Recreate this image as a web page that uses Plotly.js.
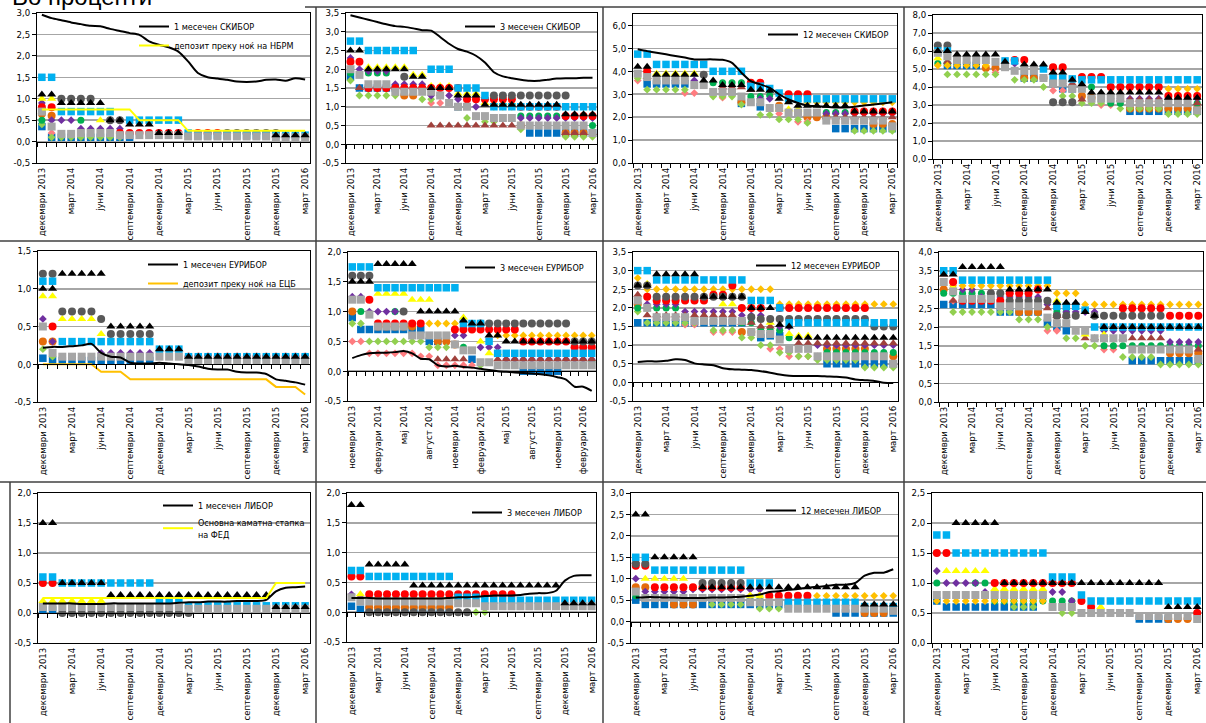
<!DOCTYPE html>
<html><head><meta charset="utf-8">
<script src="https://cdn.plot.ly/plotly-3.0.1.min.js"></script>
<style>html,body{margin:0;padding:0;background:#fff}#chart{width:1206px;height:723px}</style>
</head><body><div id="chart"></div>
<script>
const N = null;
// ---------- tick labels ----------
const labelsDec = ['декември 2013','март 2014','јуни 2014','септември 2014','декември 2014','март 2015','јуни 2015','септември 2015','декември 2015','март 2016'];
const labelsNov = ['ноември 2013','февруари 2014','мај 2014','август 2014','ноември 2014','февруари 2015','мај 2015','август 2015','ноември 2015','февруари 2016'];
const labelTicks = [0,3,6,9,12,15,18,21,24,27];

// ---------- panel 1 : 1 month SKIBOR ----------
const p1_line=[2.96,2.88,2.83,2.78,2.74, 2.70,2.69,2.63,2.58,2.53, 2.49,2.34,2.26,2.20,2.10, 1.87,1.60,1.50,1.47,1.44, 1.40,1.39,1.40,1.44,1.45, 1.42,1.48,1.45];
const p1_dep=[0.75,0.75,0.75,0.75,0.75, 0.75,0.75,0.75,0.75,0.75, 0.5,0.5,0.5,0.5,0.5, 0.25,0.25,0.25,0.25,0.25, 0.25,0.25,0.25,0.25,0.25, 0.25,0.25,0.25];
const p1_LB=[1.5,1.5,0.7,0.7,0.7, 0.7,0.7,0.7,N,0.5, 0.5,0.5,0.5,0.5,0.5, 0.2,0.15,0.15,0.15,0.15, 0.15,0.15,0.15,0.15,0.15, 0.15,0.15,0.15];
const p1_BT=[1.1,1.1,0.9,0.9,0.9, 0.9,0.9,0.5,0.5,0.4, 0.4,0.4,0.2,0.2,0.2, N,N,N,N,N, N,N,N,N,0.15, 0.15,0.15,0.15];
const p1_DG=[N,N,1.0,1.0,1.0, 1.0,N,0.5,0.5,N, N,N,N,N,N, N,N,N,N,0.2, 0.2,0.2,0.2,0.2,0.2, N,N,N];
const p1_RD=[0.8,0.8,N,N,N, N,N,N,0.2,0.2, 0.2,0.2,0.2,0.2,0.2, N,0.2,0.2,0.2,N, N,N,N,N,N, N,N,N];
const p1_YT=[1.0,1.0,N,N,N, N,0.5,N,N,N, N,N,N,N,N, N,N,N,N,N, N,N,N,N,N, N,N,N];
const p1_PU=[0.9,0.5,0.5,0.5,0.3, 0.3,0.3,0.3,0.3,N, N,N,N,N,N, N,N,N,N,N, N,N,N,N,N, N,N,N];
const p1_GN=[0.5,N,N,N,0.5, N,N,N,N,N, N,N,N,N,N, N,N,N,N,N, N,N,N,N,N, N,N,N];
const p1_OR=[0.65,0.6,N,N,N, N,N,N,N,N, N,N,N,N,N, N,N,N,N,N, N,N,N,N,N, N,N,N];
const p1_DB=[0.35,0.1,0.1,0.1,0.1, 0.1,0.1,0.1,0.1,0.1, N,N,N,N,N, N,N,N,N,N, N,N,N,N,N, N,N,N];
const p1_LG=[0.4,0.1,0.1,0.1,0.1, 0.1,0.1,0.1,0.1,N, N,N,N,N,N, N,N,N,N,N, N,N,N,N,N, N,N,N];
const p1_PK=[N,0.2,N,N,N, N,N,N,N,N, N,N,N,N,N, N,N,N,N,N, N,N,N,N,N, N,N,N];
const p1_GR=[0.7,0.35,0.18,0.18,0.2, 0.2,0.2,0.2,0.15,0.15, 0.15,0.15,0.15,0.15,0.15, 0.12,0.12,0.12,0.12,0.12, 0.12,0.12,0.12,0.12,0.1, 0.1,0.1,0.1];

// ---------- panel 2 : 3 month SKIBOR ----------
const p2_line=[3.44,3.38,3.32,3.26,3.20, 3.15,3.13,3.09,3.04,3.03, 2.86,2.68,2.54,2.47,2.36, 2.18,1.92,1.81,1.76,1.72, 1.69,1.69,1.72,1.75,1.76, 1.76,1.77,1.77];
const p2_LB=[2.75,2.75,2.5,2.5,2.5, 2.5,2.5,2.5,N,2.0, 2.0,2.0,1.5,1.5,1.5, 1.3,1.0,1.0,1.0,1.0, 1.0,1.0,1.0,1.0,1.0, 1.0,1.0,1.0];
const p2_BT=[2.5,2.5,2.0,2.0,2.0, 2.0,2.0,1.8,1.8,1.5, 1.5,1.5,1.3,1.3,1.3, 1.05,1.05,1.05,1.05,1.05, 1.05,1.05,1.05,1.05,0.8, 0.8,0.8,0.8];
const p2_DG=[N,N,N,N,N, N,1.8,N,N,N, N,N,N,N,N, N,1.3,1.3,1.3,1.3, 1.3,1.3,1.3,1.3,1.3, N,N,N];
const p2_RD=[2.2,2.2,1.5,1.5,1.5, 1.5,1.5,1.5,1.5,1.5, 1.5,1.5,1.5,1.2,1.2, 1.2,1.2,1.2,1.2,1.0, 1.0,1.0,1.0,1.0,0.75, 0.75,0.75,0.75];
const p2_YT=[N,N,2.05,2.05,2.05, 2.05,2.05,1.85,1.85,1.55, 1.55,1.55,1.35,1.35,1.35, 1.1,1.1,1.1,1.1,N, N,N,N,N,N, N,N,N];
const p2_PU=[2.3,2.0,1.95,1.95,1.95, 1.6,1.6,1.6,1.6,1.3, 1.3,1.3,1.2,1.2,1.0, N,N,N,N,0.7, 0.7,0.7,0.7,0.7,0.7, 0.7,0.7,0.7];
const p2_GN=[1.9,N,1.9,1.9,1.9, N,N,N,N,N, N,N,N,N,N, N,N,N,N,0.75, 0.75,0.75,0.75,0.75,N, N,N,0.5];
const p2_DB=[1.8,1.5,1.5,1.5,1.5, 1.5,N,N,N,N, N,N,1.0,N,N, N,N,N,N,N, 0.3,0.3,0.3,0.3,0.3, 0.3,0.3,0.3];
const p2_OR=[N,N,N,N,N, N,1.3,1.3,N,N, N,N,N,N,N, N,N,N,N,0.5, N,N,N,N,0.3, 0.3,0.3,N];
const p2_LG=[1.7,1.3,1.3,1.3,1.3, 1.3,N,N,1.2,1.2, N,N,1.0,0.7,N, 0.6,0.6,N,N,0.4, N,N,N,N,0.2, 0.2,0.2,0.2];
const p2_PK=[N,N,N,N,N, N,N,N,N,1.1, 1.1,N,N,N,N, N,N,N,N,N, N,N,N,N,N, N,N,N];
const p2_BR=[N,1.5,N,N,N, N,N,N,N,0.5, 0.5,0.5,0.5,0.5,0.5, 0.5,0.5,0.5,0.5,0.5, N,N,N,N,0.3, 0.3,0.3,0.3];
const p2_GR=[2.0,1.85,1.6,1.6,1.6, 1.4,1.4,1.4,1.4,1.4, 1.3,1.1,1.0,1.0,0.75, 0.75,0.7,0.7,0.7,0.5, 0.5,0.5,0.5,0.5,0.5, 0.5,0.5,0.3];
const p2_GD=[N,N,N,N,N, N,N,N,N,N, N,N,N,N,N, N,1.0,1.0,1.0,1.0, 1.0,1.0,1.0,1.0,N, N,N,N];

// ---------- panel 3 : 12 month SKIBOR ----------
const p3_line=[4.96,4.88,4.81,4.74,4.67, 4.60,4.52,4.52,4.52,4.50, 4.37,3.94,3.57,3.43,3.28, 3.00,2.77,2.62,2.51,2.48, 2.45,2.42,2.42,2.45,2.51, 2.55,2.60,2.65];
const p3_LB=[4.75,4.75,4.3,4.3,4.3, 4.3,4.3,4.3,4.0,4.0, 4.0,4.0,3.35,3.35,3.25, 3.05,2.8,2.8,2.8,2.8, 2.8,2.8,2.8,2.8,2.8, 2.8,2.8,2.8];
const p3_BT=[4.2,4.2,3.85,3.85,3.85, 3.85,3.85,3.6,3.6,3.4, 3.4,3.4,3.2,3.2,3.15, 2.8,2.65,2.5,2.5,2.5, 2.5,2.5,2.5,2.25,2.25, 2.25,2.25,2.25];
const p3_DG=[N,N,N,N,N, N,N,3.85,N,N, N,N,N,N,N, N,N,N,N,N, N,N,N,N,N, N,N,N];
const p3_RD=[N,4.0,N,N,N, N,N,N,N,N, N,N,3.5,3.5,N, N,3.0,3.0,3.0,N, N,N,N,2.25,2.25, 2.25,2.25,2.25];
const p3_YT=[N,N,3.9,3.9,3.9, 3.9,3.9,N,N,N, N,N,N,N,N, 2.35,2.35,2.35,N,N, N,N,N,N,N, N,N,N];
const p3_GD=[N,N,N,N,N, N,N,N,N,N, N,N,N,N,N, N,N,N,2.65,2.65, 2.65,2.65,2.65,2.65,2.65, 2.65,2.65,2.65];
const p3_PU=[N,N,N,3.6,3.6, 3.6,3.6,N,N,N, N,N,N,2.8,2.8, N,N,N,N,N, 2.15,2.15,2.15,2.15,2.15, 2.15,2.15,2.15];
const p3_GN=[N,N,N,N,N, N,N,N,3.5,3.5, 3.5,3.5,2.9,2.9,2.95, N,N,N,N,N, 2.2,2.2,2.2,2.2,N, N,N,N];
const p3_DB=[N,3.45,3.45,3.45,3.45, 3.45,N,N,N,N, N,2.6,N,2.45,N, N,N,N,N,N, N,1.5,1.5,1.5,1.5, 1.5,1.5,1.5];
const p3_OR=[N,N,N,N,N, N,N,N,N,N, N,2.65,N,N,N, 2.5,N,N,2.0,2.0, 2.0,N,N,N,N, 1.7,1.7,1.7];
const p3_LG=[3.7,3.2,3.2,3.2,3.2, 3.2,N,N,2.9,2.9, 2.9,2.55,N,2.1,2.1, 1.9,1.9,1.9,1.75,N, N,N,N,1.4,1.4, 1.4,1.4,1.4];
const p3_PK=[3.6,N,N,N,N, 3.05,3.05,N,N,2.85, N,N,N,N,N, 2.15,N,1.8,1.8,N, N,N,N,N,N, N,N,N];
const p3_BR=[N,3.75,N,N,N, N,N,N,N,3.3, 3.3,3.3,3.2,N,N, N,N,N,N,N, 2.0,2.0,2.0,2.0,2.0, 2.0,2.0,2.0];
const p3_GR=[3.9,3.75,3.6,3.6,3.6, 3.6,3.4,3.4,3.1,3.1, 3.1,2.9,2.65,2.65,2.4, 2.4,2.2,2.2,2.2,2.2, 1.85,1.85,1.85,1.85,1.85, 1.85,1.85,1.6];

// ---------- panel 4 ----------
const p4_DG=[6.3,6.3,N,N,N, N,N,N,N,N, N,N,3.15,3.15,3.15, N,N,N,N,N, N,N,N,N,N, N,N,N];
const p4_LB=[6.0,6.0,N,N,N, N,N,5.45,5.45,N, N,5.0,4.5,4.5,4.45, 4.4,4.4,4.4,4.4,4.4, 4.4,4.4,4.4,4.4,4.4, 4.4,4.4,4.4];
const p4_BT=[6.0,6.0,5.8,5.8,5.8, 5.8,5.8,5.4,N,5.25, 5.25,5.25,4.8,4.8,4.4, 4.15,3.7,3.7,3.7,3.7, 3.7,3.7,3.7,3.7,3.4, 3.4,3.4,3.4];
const p4_RD=[N,N,N,N,N, N,N,N,5.5,5.5, N,N,5.1,5.1,N, 4.55,4.55,4.55,4.0,4.0, 4.0,4.0,4.0,4.0,3.5, 3.5,3.5,3.5];
const p4_GD=[5.2,5.2,5.2,5.2,5.2, 5.2,N,N,N,N, N,N,N,N,N, N,N,N,N,N, N,N,N,N,3.9, 3.9,3.9,3.9];
const p4_YT=[5.6,N,N,N,N, N,N,N,N,N, N,N,N,N,N, N,N,N,N,N, N,N,N,N,N, N,N,N];
const p4_PU=[N,N,N,N,N, N,N,5.3,5.3,N, N,N,N,4.2,N, N,N,N,3.35,3.35, 3.35,3.35,3.35,3.35,3.35, 3.35,3.35,3.35];
const p4_GN=[5.3,5.3,N,N,N, N,N,N,N,N, N,N,N,N,N, N,4.0,N,3.1,3.1, 3.1,3.1,3.1,3.1,3.1, 3.1,3.1,3.1];
const p4_DB=[N,5.2,5.2,5.2,5.2, N,N,N,N,4.5, 4.5,N,4.2,3.9,3.9, N,N,N,N,N, 2.65,2.65,2.65,2.65,2.65, 2.65,2.65,2.65];
const p4_OR=[N,N,N,N,N, 5.05,5.05,N,N,4.5, 4.5,4.5,N,N,N, 3.5,3.4,N,N,N, 2.8,2.8,2.8,2.8,2.8, 2.8,2.8,2.8];
const p4_LG=[N,4.7,4.7,4.7,4.7, 4.7,4.7,N,4.4,4.4, 4.4,4.0,N,3.5,3.5, 3.1,3.1,3.1,N,2.8, 2.8,2.8,2.8,2.8,2.5, 2.5,2.5,2.5];
const p4_PK=[N,N,N,N,N, N,4.8,N,N,N, N,N,3.8,3.8,N, N,N,3.0,3.0,N, N,N,N,N,N, N,N,N];
const p4_BR=[N,5.4,N,N,N, N,N,N,N,N, N,N,4.8,N,4.2, 3.3,N,N,N,3.3, 3.3,3.3,3.3,3.3,N, N,N,3.1];
const p4_GR=[5.9,5.7,5.5,5.5,5.5, 5.5,5.4,5.1,4.9,4.9, 4.9,4.5,4.2,4.2,3.9, 3.9,3.35,3.35,3.35,3.35, 3.1,3.1,3.1,3.1,3.1, 3.1,3.1,2.7];

// ---------- panel 5 : 1 month EURIBOR ----------
const p5_line=[0.22,0.23,0.23,0.24,0.25, 0.27,0.15,0.10,0.09,0.02, 0.01,0.01,0.02,0.01,0.00, -0.01,-0.03,-0.06,-0.07,-0.07, -0.10,-0.11,-0.11,-0.13,-0.20, -0.22,-0.24,-0.27];
const p5_ecb=[0,0,0,0,0, 0,-0.1,-0.1,-0.1,-0.2, -0.2,-0.2,-0.2,-0.2,-0.2, -0.2,-0.2,-0.2,-0.2,-0.2, -0.2,-0.2,-0.2,-0.2,-0.3, -0.3,-0.3,-0.4];
const p5_DG=[1.2,1.2,0.7,0.7,0.7, 0.7,0.6,0.4,0.4,0.4, 0.4,0.4,N,N,N, N,N,N,N,N, N,N,N,N,N, N,N,N];
const p5_BT=[1.0,1.0,1.2,1.2,1.2, 1.2,1.2,0.5,0.5,0.5, 0.5,0.5,0.2,0.2,0.2, 0.1,0.1,0.1,0.1,0.1, 0.1,0.1,0.1,0.1,0.1, 0.1,0.1,0.1];
const p5_LB=[1.1,1.1,0.3,0.3,0.3, 0.3,0.3,0.3,0.3,0.3, 0.3,0.3,0.2,0.2,0.2, 0.1,0.1,0.1,0.1,0.1, 0.1,0.1,0.1,0.1,0.1, 0.1,0.1,0.1];
const p5_YT=[0.9,0.9,0.6,0.6,0.6, 0.6,0.4,N,N,N, N,N,N,N,N, N,N,N,N,N, N,N,N,N,N, N,N,N];
const p5_PU=[0.6,0.3,N,N,N, N,0.15,0.15,0.15,0.15, 0.15,0.15,N,N,N, 0.1,N,N,N,N, N,N,N,N,N, N,N,N];
const p5_RD=[N,0.5,N,N,N, N,N,N,N,N, N,N,N,N,N, 0.1,0.1,0.1,0.1,0.1, 0.1,0.1,0.1,0.1,0.1, 0.1,0.1,0.1];
const p5_GR=[0.5,0.15,0.1,0.1,0.1, 0.1,0.1,0.1,0.1,0.1, 0.1,0.1,0.1,0.1,0.1, 0.05,0.05,0.05,0.05,0.05, 0.05,0.05,0.05,0.05,0.05, 0.05,0.05,0.05];
const p5_OR=[0.3,0.3,N,N,N, N,N,N,N,N, N,N,N,N,N, N,N,N,N,N, N,N,N,N,N, N,N,N];
const p5_LG=[0.2,0.1,N,N,N, N,N,N,N,N, N,N,N,N,N, N,N,N,N,N, N,N,N,N,N, N,N,N];
const p5_DB=[0.08,0.05,0.05,0.05,0.05, 0.05,0.05,0.05,0.05,0.05, 0.05,0.05,N,N,N, N,N,N,N,N, N,N,N,N,N, N,N,N];

// ---------- panel 6 : 3 month EURIBOR (Nov 2013 - Mar 2016) ----------
const p6_line=[0.22,0.27,0.30,0.31,0.31, 0.32,0.34,0.30,0.21,0.20, 0.10,0.08,0.09,0.07,0.06, 0.04,0.02,0.00,-0.01,-0.02, -0.03,-0.04,-0.05,-0.07,-0.10, -0.14,-0.26,-0.26,-0.33];
const p6_LB=[1.75,1.75,1.75,1.4,1.4, 1.4,1.4,1.4,1.4,1.4, 1.4,1.4,1.4,0.8,0.8, 0.8,0.5,0.3,0.3,0.3, 0.3,0.3,0.3,0.3,0.3, 0.3,0.3,0.3,0.3];
const p6_BT=[1.5,1.5,1.5,1.8,1.8, 1.8,1.8,1.8,1.0,1.0, 1.0,1.0,1.0,0.85,0.8, 0.8,0.6,0.6,0.5,0.5, 0.5,0.5,0.5,0.5,0.5, 0.5,0.5,0.5,0.5];
const p6_DG=[1.6,1.6,1.6,N,N, N,1.0,N,N,N, N,N,N,N,N, 0.8,0.8,0.8,0.8,0.8, 0.8,0.8,0.8,0.8,0.8, 0.8,0.5,0.5,0.5];
const p6_RD=[N,N,1.2,0.8,0.8, 0.8,0.8,0.8,0.8,N, N,N,0.7,0.7,0.7, 0.7,0.7,0.7,0.7,0.7, 0.5,0.5,0.5,0.5,0.5, 0.5,0.4,0.4,0.4];
const p6_YT=[N,N,N,1.3,1.3, 1.3,1.3,1.2,1.2,1.2, N,N,N,0.9,N, 0.5,0.3,0.3,N,N, N,N,N,N,N, N,N,N,N];
const p6_GD=[N,N,N,N,N, N,N,N,N,0.8, 0.8,0.8,0.8,N,N, N,N,0.6,0.6,0.6, 0.6,0.6,0.6,0.6,0.6, 0.6,0.6,0.6,0.6];
const p6_PU=[1.25,1.25,1.0,1.0,1.0, 1.0,N,N,N,N, N,N,0.6,0.6,N, 0.4,0.4,0.4,0.2,0.2, 0.2,0.2,0.2,0.2,0.2, 0.2,0.2,0.2,0.2];
const p6_GN=[N,1.0,N,N,N, 1.0,N,N,N,N, N,N,N,0.4,N, N,N,N,N,N, N,N,N,N,N, N,N,N,0.15];
const p6_OR=[1.0,N,N,0.75,0.75, 0.75,0.75,0.75,N,N, 0.5,0.5,0.45,N,N, N,N,N,N,N, N,N,N,N,N, N,N,N,N];
const p6_DB=[0.9,0.7,0.7,0.7,0.7, 0.7,0.7,0.7,0.7,0.5, 0.5,N,N,N,0.2, N,N,N,N,N, 0.0,0.0,0.0,0.0,0.0, N,N,N,N];
const p6_LG=[0.8,0.8,0.5,0.5,0.5, 0.5,0.5,0.5,0.5,0.4, 0.4,0.4,N,0.4,N, 0.1,N,N,N,N, N,N,N,N,N, N,N,N,N];
const p6_PK=[0.5,0.5,0.3,0.3,0.3, 0.3,0.3,0.3,0.25,0.25, 0.1,0.1,0.1,0.1,0.1, N,N,N,N,N, N,N,N,N,N, N,N,N,N];
const p6_BR=[N,N,N,N,N, N,N,N,N,N, 0.2,0.2,0.2,0.2,N, N,N,0.2,0.2,0.2, 0.2,0.2,0.2,0.2,0.2, 0.2,0.2,0.2,0.2];
const p6_GR=[1.2,1.2,0.95,0.75,0.75, 0.75,0.75,0.6,0.6,0.6, 0.6,0.6,0.45,0.35,0.35, 0.15,0.15,0.1,0.1,0.1, 0.1,0.1,0.1,0.1,0.1, 0.1,0.1,0.1,0.1];

// ---------- panel 7 : 12 month EURIBOR ----------
const p7_line=[0.55,0.57,0.56,0.58,0.62, 0.60,0.51,0.48,0.46,0.38, 0.35,0.34,0.33,0.30,0.26, 0.21,0.18,0.17,0.17,0.17, 0.16,0.15,0.13,0.08,0.06, 0.04,-0.01,-0.02];
const p7_LB=[3.0,3.0,2.75,2.75,2.75, 2.75,2.75,2.75,2.75,2.75, 2.75,2.75,2.2,2.2,2.2, 2.0,1.6,1.6,1.6,1.6, 1.6,1.6,1.6,1.6,1.6, 1.6,1.6,1.6];
const p7_BT=[2.6,2.6,2.9,2.9,2.9, 2.9,2.9,2.3,2.3,2.3, 2.3,2.3,2.0,2.0,2.0, 1.55,1.5,1.2,1.2,1.2, 1.2,1.2,1.2,1.2,1.2, 1.2,1.2,1.2];
const p7_DG=[2.6,2.6,2.3,2.3,2.3, 2.3,2.3,2.3,2.3,2.3, 2.3,2.3,1.75,1.7,1.7, 1.7,1.7,1.7,1.7,1.7, 1.7,1.7,1.7,1.7,1.7, 1.5,1.5,1.5];
const p7_RD=[N,2.3,2.2,2.2,2.2, 2.2,2.2,2.2,2.35,2.35, 2.6,2.0,2.0,2.0,N, 2.0,2.0,2.0,2.0,2.0, 2.0,2.0,2.0,2.0,2.0, N,N,N];
const p7_GD=[2.8,2.5,2.5,2.5,2.5, 2.5,2.5,2.5,2.5,2.5, 2.5,2.5,2.5,2.5,2.5, 2.1,2.1,2.1,2.1,2.1, 2.1,2.1,2.1,2.1,2.1, 2.1,2.1,2.1];
const p7_YT=[N,2.65,N,N,N, N,N,N,N,2.1, 2.1,N,2.15,N,1.6, N,1.3,1.25,1.25,N, N,N,N,N,N, N,N,N];
const p7_PU=[N,2.1,2.1,2.1,2.1, 1.9,1.9,1.9,1.9,1.9, 1.9,1.8,1.8,1.8,N, 1.5,1.5,1.0,1.0,1.0, 1.0,1.0,1.0,1.0,1.0, 1.0,1.0,1.0];
const p7_GN=[2.0,2.0,2.0,2.0,2.0, N,N,N,N,N, N,1.6,1.6,1.4,1.4, 1.4,1.2,N,N,N, 0.8,0.8,0.8,0.8,0.8, 0.8,0.8,0.8];
const p7_DB=[1.6,1.6,1.6,1.6,1.6, 1.6,1.6,1.6,1.6,1.6, 1.6,1.6,N,1.2,1.25, 1.25,N,N,N,N, 0.5,0.5,0.5,0.5,0.5, 0.5,0.5,0.5];
const p7_OR=[2.1,N,N,N,N, N,N,N,N,N, N,1.35,1.35,N,N, N,N,N,N,N, 0.9,0.9,0.9,0.9,0.9, N,N,0.7];
const p7_LG=[1.9,1.6,1.6,1.6,1.6, 1.6,1.6,N,1.4,1.4, 1.4,1.2,1.2,1.0,1.0, 0.8,0.8,0.7,0.7,0.6, 0.6,0.6,0.6,0.6,0.4, 0.4,0.4,0.4];
const p7_PK=[N,N,N,N,N, 1.55,1.55,N,1.35,1.35, 1.35,N,N,N,0.9, 0.9,0.7,0.7,0.7,0.7, N,N,N,N,N, N,N,N];
const p7_BR=[2.35,1.8,1.8,1.8,1.8, 1.8,1.8,1.8,1.8,1.8, 1.8,1.6,1.6,1.5,1.5, N,N,1.05,1.05,1.05, 1.05,1.05,1.05,1.05,1.05, 1.05,1.05,1.05];
const p7_GR=[2.2,2.0,1.75,1.75,1.75, 1.75,1.65,1.65,1.65,1.65, 1.65,1.65,1.35,1.3,1.3, 1.15,0.9,0.9,0.9,0.7, 0.7,0.7,0.7,0.7,0.7, 0.7,0.7,0.5];

// ---------- panel 8 ----------
const p8_LB=[3.5,3.5,3.25,3.25,3.25, 3.25,3.25,3.25,3.25,3.25, 3.25,3.25,2.55,2.55,2.55, 2.45,2.0,2.0,2.0,2.0, 2.0,2.0,2.0,2.0,2.0, 2.0,2.0,2.0];
const p8_BT=[3.4,3.4,3.6,3.6,3.6, 3.6,3.6,3.0,3.0,3.0, 3.0,3.0,2.65,2.65,2.65, 2.4,2.3,2.0,2.0,2.0, 2.0,2.0,2.0,2.0,2.0, 2.0,2.0,2.0];
const p8_DG=[N,N,N,N,N, 2.9,2.9,2.7,2.7,2.7, 2.7,2.7,2.3,2.3,2.3, N,2.3,2.3,2.3,2.3, 2.3,2.3,2.3,2.3,N, N,N,N];
const p8_RD=[N,3.2,2.7,2.7,2.7, 2.7,2.7,2.9,2.9,2.9, 3.0,N,N,N,N, N,N,N,N,2.5, 2.5,2.5,2.5,2.5,2.3, 2.3,2.3,2.3];
const p8_GD=[N,3.1,3.1,3.1,3.1, 3.1,3.1,3.1,3.1,3.1, 3.1,3.1,2.9,2.9,2.9, 2.6,2.6,2.6,2.6,2.6, 2.6,2.6,2.6,2.6,2.6, 2.6,2.6,2.6];
const p8_YT=[N,3.05,N,N,N, N,N,N,N,N, N,N,2.7,N,N, 1.8,N,1.8,N,N, N,N,N,N,N, N,N,N];
const p8_PU=[N,N,3.0,3.0,2.8, 2.8,2.8,2.8,2.8,2.8, 2.8,2.6,2.3,2.4,2.4, 2.4,2.4,1.9,1.9,1.9, 1.9,1.9,1.9,1.9,1.6, 1.6,1.6,1.6];
const p8_GN=[2.9,2.9,2.9,2.9,2.9, N,N,N,N,N, N,N,2.4,2.4,N, N,N,1.5,1.5,1.5, 1.5,1.5,1.5,1.5,1.5, 1.5,1.5,1.5];
const p8_DB=[2.6,2.6,2.6,2.6,2.6, 2.6,2.4,2.4,2.4,2.4, 2.4,2.1,2.0,1.9,N, N,N,N,N,N, 1.1,1.1,1.1,1.1,1.1, 1.1,1.1,1.1];
const p8_OR=[3.0,N,N,N,N, N,N,N,2.4,2.4, 2.4,N,2.3,N,N, N,N,N,N,N, N,N,N,N,1.3, 1.3,1.3,1.3];
const p8_LG=[N,2.4,2.4,2.4,2.4, 2.4,2.4,2.4,2.2,2.2, 2.2,2.0,N,1.7,1.7, 1.5,1.5,1.5,1.5,1.2, 1.2,1.2,1.2,1.0,1.0, 1.0,1.0,1.0];
const p8_PK=[N,2.7,N,N,N, N,N,N,N,N, N,1.9,1.9,N,N, N,N,1.4,1.4,N, N,N,N,N,N, N,N,N];
const p8_BR=[3.4,2.7,N,N,N, N,N,N,N,N, N,2.5,2.3,2.3,N, 1.7,1.7,N,N,1.7, 1.7,1.7,1.7,1.7,N, N,N,1.4];
const p8_GR=[3.2,2.95,2.75,2.75,2.75, 2.75,2.55,2.55,2.55,2.55, 2.55,2.25,2.1,2.1,1.9, 1.9,1.7,1.7,1.7,1.7, 1.4,1.4,1.4,1.4,1.4, 1.4,1.4,1.15];

// ---------- panel 9 : 1 month LIBOR ----------
const p9_line=[0.16,0.16,0.16,0.16,0.15, 0.15,0.15,0.16,0.16,0.16, 0.16,0.16,0.16,0.16,0.17, 0.18,0.18,0.19,0.19,0.19, 0.20,0.20,0.20,0.22,0.36, 0.42,0.43,0.44];
const p9_fed=[0.25,0.25,0.25,0.25,0.25, 0.25,0.25,0.25,0.25,0.25, 0.25,0.25,0.25,0.25,0.25, 0.25,0.25,0.25,0.25,0.25, 0.25,0.25,0.25,0.25,0.5, 0.5,0.5,0.5];
const p9_BT=[1.5,1.5,0.5,0.5,0.5, 0.5,0.5,0.3,0.3,0.3, 0.3,0.3,0.3,0.3,0.3, 0.3,0.3,0.3,0.3,0.3, 0.3,0.3,0.3,0.3,0.1, 0.1,0.1,0.1];
const p9_LB=[0.6,0.6,0.5,0.5,0.5, 0.5,0.5,0.5,0.5,0.5, 0.5,0.5,0.2,0.2,0.2, 0.12,0.12,0.12,0.12,0.12, 0.12,0.12,0.12,0.12,0.12, 0.12,0.12,0.12];
const p9_RD=[0.5,0.5,N,N,N, N,N,N,N,N, N,N,N,N,N, N,N,N,N,N, N,N,N,N,N, N,N,N];
const p9_YT=[0.2,0.2,0.2,0.2,0.2, 0.2,0.2,N,N,N, N,N,N,N,N, N,N,N,N,N, N,N,N,N,N, N,N,N];
const p9_PU=[0.15,0.15,N,N,N, N,N,N,N,N, N,N,0.15,0.15,N, N,N,N,N,N, N,N,N,N,N, N,N,N];
const p9_GR=[0.1,0.1,0.1,0.1,0.1, 0.1,0.1,0.1,0.1,0.1, 0.1,0.1,0.1,0.1,0.1, 0.07,0.07,0.07,0.07,0.07, 0.07,0.07,0.07,0.07,0.07, 0.07,0.07,0.07];
const p9_DG=[N,N,0,0,0, 0,0,0,0,0, 0,0,0,0,0, 0,N,N,N,N, N,N,N,N,N, N,N,N];
const p9_LG=[N,N,N,N,N, N,N,N,0,0, 0,N,N,N,N, N,N,N,N,N, N,N,N,N,N, N,N,N];
const p9_DB=[0.05,0.05,N,N,N, N,N,N,N,N, N,N,N,N,N, N,N,N,N,N, N,N,N,N,N, N,N,N];

// ---------- panel 10 : 3 month LIBOR ----------
const p10_line=[0.24,0.24,0.24,0.23,0.23, 0.23,0.23,0.23,0.23,0.23, 0.23,0.24,0.25,0.25,0.26, 0.27,0.28,0.28,0.28,0.29, 0.31,0.32,0.32,0.36,0.53, 0.61,0.62,0.62];
const p10_BT=[1.8,1.8,0.8,0.8,0.8, 0.8,0.8,0.45,0.45,0.45, 0.45,0.45,0.45,0.45,0.45, 0.45,0.45,0.45,0.45,0.45, 0.45,0.45,0.45,0.45,0.15, 0.15,0.15,0.15];
const p10_LB=[0.7,0.7,0.6,0.6,0.6, 0.6,0.6,0.6,0.6,0.6, 0.6,0.6,0.25,0.25,0.25, 0.2,0.2,0.2,0.2,0.2, 0.2,0.2,0.2,0.2,0.2, 0.2,0.2,0.2];
const p10_RD=[0.6,0.6,0.3,0.3,0.3, 0.3,0.3,0.3,0.3,0.3, 0.3,0.3,0.3,0.3,0.3, 0.3,0.3,0.3,0.3,N, N,N,N,N,N, N,N,N];
const p10_YT=[N,0.3,0.25,0.25,0.25, 0.25,0.25,0.25,0.25,0.25, 0.25,0.25,N,N,N, N,N,N,N,N, N,N,N,N,N, N,N,N];
const p10_PU=[0.3,0.25,0.25,0.25,0.25, N,N,N,N,N, N,N,N,N,N, N,N,N,N,N, N,N,N,N,N, N,N,N];
const p10_DB=[0.1,0.05,0.05,0.05,0.05, 0.05,0.05,0.05,0.05,0.05, 0.05,0.05,N,N,N, N,N,N,N,N, N,N,N,N,N, N,N,N];
const p10_GR=[0.25,0.18,0.18,0.18,0.18, 0.18,0.18,0.18,0.18,0.18, 0.18,0.18,0.15,0.15,0.15, 0.1,0.1,0.1,0.1,0.1, 0.1,0.1,0.1,0.1,0.1, 0.1,0.1,0.1];
const p10_DG=[N,N,0,0,0, 0,0,0,0,0, 0,0,0,0,N, N,N,N,N,N, N,N,N,N,N, N,N,N];
const p10_LG=[N,N,N,N,N, N,N,N,N,N, N,N,N,0,0, 0,N,N,N,N, N,N,N,N,N, N,N,N];
const p10_OR=[N,N,0.08,0.08,0.08, 0.08,0.08,0.08,0.08,0.08, 0.08,0.08,N,N,N, N,N,N,N,N, N,N,N,N,N, N,N,N];

// ---------- panel 11 : 12 month LIBOR ----------
const p11_line=[0.56,0.57,0.57,0.56,0.56, 0.55,0.55,0.55,0.56,0.56, 0.57,0.58,0.60,0.63,0.69, 0.71,0.74,0.76,0.79,0.81, 0.83,0.86,0.86,0.90,1.07, 1.14,1.14,1.22];
const p11_BT=[2.5,2.5,1.5,1.5,1.5, 1.5,1.5,0.8,0.8,0.8, 0.8,0.8,0.8,0.8,0.8, 0.8,0.8,0.8,0.8,0.8, 0.8,0.8,0.8,0.8,0.4, 0.4,0.4,0.4];
const p11_LB=[1.5,1.5,1.2,1.2,1.2, 1.2,1.2,1.2,1.2,1.2, 1.2,1.2,0.9,0.9,0.9, 0.45,0.45,0.45,0.45,0.45, 0.45,0.45,0.45,0.45,0.35, 0.35,0.35,0.35];
const p11_RD=[1.3,1.3,0.8,0.8,0.8, 0.8,0.8,0.8,0.8,0.8, 0.8,0.8,N,N,0.6, 0.6,0.6,0.6,0.6,N, N,N,N,N,N, N,N,N];
const p11_DG=[1.35,1.35,N,N,N, N,N,0.9,0.9,0.9, 0.9,0.9,N,N,N, N,N,N,N,N, N,N,N,N,N, N,N,N];
const p11_YT=[N,1.0,1.0,1.0,1.0, 1.0,N,N,N,N, N,N,0.6,0.6,0.6, N,N,N,N,N, N,N,N,N,N, N,N,N];
const p11_GD=[N,N,N,N,N, N,N,N,N,N, N,N,0.6,0.6,0.6, 0.6,0.6,0.6,0.6,0.6, 0.6,0.6,0.6,0.6,0.6, 0.6,0.6,0.6];
const p11_PU=[1.0,0.7,0.7,0.7,0.7, 0.7,0.75,0.75,0.75,0.75, 0.75,0.75,0.75,0.75,N, N,N,N,N,N, N,N,N,N,N, N,N,N];
const p11_OR=[0.8,0.8,N,N,0.4, 0.4,0.4,N,N,N, N,N,N,N,N, N,N,N,N,N, N,N,N,N,0.2, 0.2,0.2,N];
const p11_GN=[0.6,N,N,N,N, N,N,N,N,N, N,N,0.5,0.5,N, N,N,N,N,N, N,N,N,N,N, N,N,0.3];
const p11_DB=[0.5,0.4,0.4,0.4,0.4, 0.4,0.4,0.4,0.4,0.4, 0.4,0.4,0.4,0.4,0.4, 0.4,0.4,N,N,N, N,0.2,0.2,0.2,0.2, 0.2,0.2,0.2];
const p11_LG=[N,N,N,N,N, N,N,N,0.4,0.4, 0.4,0.4,N,0.3,0.3, 0.3,N,N,N,N, N,N,N,N,N, N,N,N];
const p11_GR=[0.7,0.55,0.55,0.55,0.55, 0.55,0.55,0.55,0.55,0.55, 0.55,0.55,0.45,0.45,0.45, 0.45,0.3,0.3,0.3,0.3, 0.3,0.3,0.3,0.3,0.3, 0.3,0.3,0.25];
const p11_BR=[1.4,N,N,N,N, N,N,N,N,N, N,N,N,N,N, N,N,N,N,N, N,N,N,N,N, N,N,N];

// ---------- panel 12 ----------
const p12_BT=[N,N,2.0,2.0,2.0, 2.0,2.0,1.0,1.0,1.0, 1.0,1.0,1.0,1.0,1.0, 1.0,1.0,1.0,1.0,1.0, 1.0,1.0,1.0,1.0,0.6, 0.6,0.6,0.6];
const p12_LB=[1.8,1.8,1.5,1.5,1.5, 1.5,1.5,1.5,1.5,1.5, 1.5,1.5,1.1,1.1,1.1, 0.8,0.7,0.7,0.7,0.7, 0.7,0.7,0.7,0.7,0.7, 0.7,0.7,0.7];
const p12_RD=[1.5,1.5,N,N,N, N,1.0,1.0,1.0,1.0, 1.0,1.0,1.0,1.0,1.0, 0.7,0.6,N,N,N, N,N,N,N,N, N,N,0.5];
const p12_PU=[1.2,1.0,1.0,1.0,1.0, 0.85,0.85,0.85,0.85,0.85, 0.85,0.85,0.85,0.85,0.7, 0.7,N,N,N,N, N,N,N,N,N, N,N,N];
const p12_YT=[N,1.2,1.2,1.2,1.2, 1.2,0.9,0.9,0.9,0.9, 0.9,0.9,N,N,N, N,N,0.6,N,N, N,N,N,N,N, N,N,N];
const p12_GN=[1.0,N,N,N,1.0, 1.0,0.7,0.7,0.7,0.7, 0.7,0.7,0.7,0.7,0.7, N,N,N,N,N, N,N,N,N,N, N,N,0.5];
const p12_GD=[0.7,0.7,0.7,0.7,0.7, 0.7,0.7,0.7,0.7,0.7, 0.7,0.7,N,N,N, N,N,N,N,N, N,N,N,N,N, N,N,N];
const p12_DB=[0.7,0.6,0.6,0.6,0.6, 0.6,0.6,0.6,0.6,0.6, 0.6,N,N,N,N, N,N,N,N,N, N,0.4,0.4,0.4,0.4, N,N,N];
const p12_GR=[0.8,0.8,0.8,0.8,0.8, 0.8,0.8,0.8,0.8,0.8, 0.8,0.8,0.6,0.6,0.6, 0.5,0.5,0.5,0.5,0.5, 0.5,0.45,0.45,0.45,0.45, 0.45,0.45,0.4];
const p12_LG=[N,N,N,N,N, N,N,N,0.6,0.6, 0.6,N,N,0.5,0.5, 0.5,N,N,N,N, N,N,N,N,N, N,N,N];
const p12_OR=[N,N,N,N,N, N,N,N,N,N, N,N,N,N,N, N,N,N,N,N, N,N,N,N,0.4, 0.4,0.4,N];

// ---------- styling (not data) ----------
const W = 1206, H = 723;
const FONT = '"Liberation Sans Narrow","DejaVu Sans Condensed","Liberation Sans",Arial,sans-serif';
const STY = {
  DB:{symbol:'square',color:'#0070C0',size:7.5},
  OR:{symbol:'circle',color:'#E46C0A',size:8},
  PK:{symbol:'diamond',color:'#FF7C80',size:6},
  LG:{symbol:'diamond',color:'#92D050',size:6},
  GN:{symbol:'circle',color:'#00B050',size:7},
  PU:{symbol:'diamond',color:'#7030A0',size:6},
  BR:{symbol:'triangle-up',color:'#A0413C',size:8},
  GD:{symbol:'diamond',color:'#FFC000',size:6},
  YT:{symbol:'triangle-up',color:'#FFFF00',size:8},
  RD:{symbol:'circle',color:'#FF0000',size:8},
  DG:{symbol:'circle',color:'#595959',size:8},
  LB:{symbol:'square',color:'#00B0F0',size:7.5},
  GR:{symbol:'square',color:'#A6A6A6',size:8},
  BT:{symbol:'triangle-up',color:'#000000',size:8}
};
const ORDER = ['DB','OR','PK','LG','GN','PU','BR','GD','YT','RD','DG','LB','GR','BT'];

const panels = [
 {px:[37,310],py:[13,163],yr:[-0.5,3.0],dt:0.5,n:28,lab:labelsDec,leg:{id:'legend',tx:174,ty:24},
  mk:{DB:p1_DB,OR:p1_OR,PK:p1_PK,LG:p1_LG,GN:p1_GN,PU:p1_PU,YT:p1_YT,RD:p1_RD,DG:p1_DG,LB:p1_LB,GR:p1_GR,BT:p1_BT},
  ln:[{y:p1_line,name:'1 месечен СКИБОР',c:'#000000',s:'spline'},{y:p1_dep,name:'депозит преку ноќ на НБРМ',c:'#FFFF00',s:'linear'}]},
 {px:[346,597],py:[13,163],yr:[-0.5,3.5],dt:0.5,n:28,lab:labelsDec,leg:{id:'legend2',tx:500,ty:24},
  mk:{DB:p2_DB,OR:p2_OR,PK:p2_PK,LG:p2_LG,GN:p2_GN,PU:p2_PU,BR:p2_BR,GD:p2_GD,YT:p2_YT,RD:p2_RD,DG:p2_DG,LB:p2_LB,GR:p2_GR,BT:p2_BT},
  ln:[{y:p2_line,name:'3 месечен СКИБОР',c:'#000000',s:'spline'}]},
 {px:[633,897],py:[14,163],yr:[0,6.5],dt:1,n:28,lab:labelsDec,leg:{id:'legend3',tx:803,ty:32},
  mk:{DB:p3_DB,OR:p3_OR,PK:p3_PK,LG:p3_LG,GN:p3_GN,PU:p3_PU,BR:p3_BR,GD:p3_GD,YT:p3_YT,RD:p3_RD,DG:p3_DG,LB:p3_LB,GR:p3_GR,BT:p3_BT},
  ln:[{y:p3_line,name:'12 месечен СКИБОР',c:'#000000',s:'spline'}]},
 {px:[933,1202],py:[15,159],yr:[0,8],dt:1,n:28,lab:labelsDec,leg:null,
  mk:{DB:p4_DB,OR:p4_OR,PK:p4_PK,LG:p4_LG,GN:p4_GN,PU:p4_PU,BR:p4_BR,GD:p4_GD,YT:p4_YT,RD:p4_RD,DG:p4_DG,LB:p4_LB,GR:p4_GR,BT:p4_BT},
  ln:[]},
 {px:[38,310],py:[251,402],yr:[-0.5,1.5],dt:0.5,n:28,lab:labelsDec,leg:{id:'legend4',tx:183,ty:262},
  mk:{DB:p5_DB,OR:p5_OR,LG:p5_LG,PU:p5_PU,YT:p5_YT,RD:p5_RD,DG:p5_DG,LB:p5_LB,GR:p5_GR,BT:p5_BT},
  ln:[{y:p5_line,name:'1 месечен ЕУРИБОР',c:'#000000',s:'spline'},{y:p5_ecb,name:'депозит преку ноќ на ЕЦБ',c:'#FFC000',s:'linear'}]},
 {px:[348,596],py:[252,401],yr:[-0.5,2.0],dt:0.5,n:29,lab:labelsNov,leg:{id:'legend5',tx:500,ty:265},
  mk:{DB:p6_DB,OR:p6_OR,PK:p6_PK,LG:p6_LG,GN:p6_GN,PU:p6_PU,BR:p6_BR,GD:p6_GD,YT:p6_YT,RD:p6_RD,DG:p6_DG,LB:p6_LB,GR:p6_GR,BT:p6_BT},
  ln:[{y:p6_line,name:'3 месечен ЕУРИБОР',c:'#000000',s:'spline'}]},
 {px:[633,898],py:[252,401],yr:[-0.5,3.5],dt:0.5,n:28,lab:labelsDec,leg:{id:'legend6',tx:791,ty:263},
  mk:{DB:p7_DB,OR:p7_OR,PK:p7_PK,LG:p7_LG,GN:p7_GN,PU:p7_PU,BR:p7_BR,GD:p7_GD,YT:p7_YT,RD:p7_RD,DG:p7_DG,LB:p7_LB,GR:p7_GR,BT:p7_BT},
  ln:[{y:p7_line,name:'12 месечен ЕУРИБОР',c:'#000000',s:'spline'}]},
 {px:[939,1203],py:[252,402],yr:[0,4.0],dt:0.5,n:28,lab:labelsDec,leg:null,
  mk:{DB:p8_DB,OR:p8_OR,PK:p8_PK,LG:p8_LG,GN:p8_GN,PU:p8_PU,BR:p8_BR,GD:p8_GD,YT:p8_YT,RD:p8_RD,DG:p8_DG,LB:p8_LB,GR:p8_GR,BT:p8_BT},
  ln:[]},
 {px:[38,310],py:[493,643],yr:[-0.5,2.0],dt:0.5,n:28,lab:labelsDec,leg:{id:'legend7',tx:198,ty:503},
  mk:{DB:p9_DB,LG:p9_LG,PU:p9_PU,YT:p9_YT,RD:p9_RD,DG:p9_DG,LB:p9_LB,GR:p9_GR,BT:p9_BT},
  ln:[{y:p9_line,name:'1 месечен ЛИБОР',c:'#000000',s:'spline'},{y:p9_fed,name:'Основна каматна стапка<br>на ФЕД',c:'#FFFF00',s:'linear'}]},
 {px:[347,596],py:[493,642],yr:[-0.5,2.0],dt:0.5,n:28,lab:labelsDec,leg:{id:'legend8',tx:507,ty:510},
  mk:{DB:p10_DB,OR:p10_OR,LG:p10_LG,PU:p10_PU,YT:p10_YT,RD:p10_RD,DG:p10_DG,LB:p10_LB,GR:p10_GR,BT:p10_BT},
  ln:[{y:p10_line,name:'3 месечен ЛИБОР',c:'#000000',s:'spline'}]},
 {px:[631,898],py:[493,643],yr:[-0.5,3.0],dt:0.5,n:28,lab:labelsDec,leg:{id:'legend9',tx:801,ty:508},
  mk:{DB:p11_DB,OR:p11_OR,LG:p11_LG,GN:p11_GN,PU:p11_PU,BR:p11_BR,GD:p11_GD,YT:p11_YT,RD:p11_RD,DG:p11_DG,LB:p11_LB,GR:p11_GR,BT:p11_BT},
  ln:[{y:p11_line,name:'12 месечен ЛИБОР',c:'#000000',s:'spline'}]},
 {px:[932,1202],py:[493,643],yr:[0,2.5],dt:0.5,n:28,lab:labelsDec,leg:null,
  mk:{DB:p12_DB,OR:p12_OR,LG:p12_LG,GN:p12_GN,PU:p12_PU,GD:p12_GD,YT:p12_YT,RD:p12_RD,LB:p12_LB,GR:p12_GR,BT:p12_BT},
  ln:[]}
];

const traces = [];
const bad = [];
const layout = {
  width:W, height:H, margin:{l:0,r:0,t:0,b:0}, paper_bgcolor:'#ffffff', plot_bgcolor:'rgba(0,0,0,0)',
  showlegend:true, hovermode:false, font:{family:FONT,size:9,color:'#000000'},
  annotations:[], shapes:[]
};
const xtf = {family:FONT,size:9.5,color:'#000000'};
const ytf = {family:FONT,size:9.5,color:'#000000'};

panels.forEach((p,k)=>{
  const s = k===0 ? '' : String(k+1);
  const xa='x'+s, ya='y'+s, xt='x'+(k+13);
  const xd=[p.px[0]/W, p.px[1]/W], yd=[1-p.py[1]/H, 1-p.py[0]/H];
  const rng=[-0.5, p.n-0.5];
  const yv=[]; for(let v=p.yr[0]; v<=p.yr[1]+1e-9; v+=p.dt) yv.push(Math.round(v*100)/100);
  layout['xaxis'+s] = {domain:xd, anchor:ya, range:rng, tickmode:'array', tickvals:labelTicks, ticktext:p.lab,
    tickangle:-90, ticks:'', showline:true, mirror:true, linecolor:'#000', linewidth:1, showgrid:false, zeroline:false, tickfont:xtf};
  layout['yaxis'+s] = {domain:yd, anchor:xa, range:p.yr, tickmode:'array', tickvals:yv,
    ticktext:yv.map(v=>v.toFixed(1).replace('.',',')), ticks:'outside', ticklen:4, tickcolor:'#000',
    showline:true, mirror:true, linecolor:'#000', linewidth:1, showgrid:true, gridcolor:'#A6A6A6', gridwidth:1.5,
    zeroline:false, tickfont:ytf};
  const zpx = p.py[0] + (p.yr[1]-0)/(p.yr[1]-p.yr[0])*(p.py[1]-p.py[0]);
  const bnd=[]; for(let i=0;i<=p.n;i++) bnd.push(i-0.5);
  layout['xaxis'+(k+13)] = {overlaying:xa, anchor:'free', position:1-zpx/H, domain:xd, range:rng,
    tickmode:'array', tickvals:bnd, ticks:'outside', ticklen:4, tickcolor:'#000', showticklabels:false,
    showline:true, linecolor:'#000', linewidth:1, showgrid:false, zeroline:false};
  ORDER.forEach(key=>{
    const arr=p.mk[key]; if(!arr) return;
    if(arr.length!==p.n) bad.push('panel'+(k+1)+' '+key+' len '+arr.length);
    const st=STY[key];
    const onTop = (p.ln.length===0 && key==='BT');
    traces.push({type:'scatter', mode:'markers', x:arr.map((_,i)=>i), y:arr, xaxis: onTop?xt:xa, yaxis:ya,
      showlegend:false, cliponaxis:true,
      marker:{symbol:st.symbol, color:st.color, size:st.size, line:{width:0}}});
  });
  p.ln.forEach(l=>{
    if(l.y.length!==p.n) bad.push('panel'+(k+1)+' line len '+l.y.length);
    traces.push({type:'scatter', mode:'lines', x:l.y.map((_,i)=>i), y:l.y, xaxis:xt, yaxis:ya,
      name:l.name, legend:p.leg.id, showlegend:true,
      line:{color:l.c, width:2, shape:l.s, smoothing:0.7}});
  });
  if(p.leg){
    layout[p.leg.id] = {x:(p.leg.tx-40)/W, y:1-(p.leg.ty-12)/H, xanchor:'left', yanchor:'top',
      bgcolor:'rgba(0,0,0,0)', borderwidth:0, font:{family:FONT,size:9,color:'#000'}, tracegroupgap:0, itemwidth:30};
  }
});

// cell borders of the table the charts sit in
const bc='#404040';
function hl(y,x0,x1){layout.shapes.push({type:'line',xref:'paper',yref:'paper',x0:x0/W,x1:x1/W,y0:1-y/H,y1:1-y/H,line:{color:bc,width:1.5}});}
function vl(x,y0,y1){layout.shapes.push({type:'line',xref:'paper',yref:'paper',x0:x/W,x1:x/W,y0:1-y0/H,y1:1-y1/H,line:{color:bc,width:1.5}});}
hl(7,305,1206); hl(241,0,1206); hl(482,0,1206);
vl(316,7,723); vl(603,7,723); vl(904,7,723); vl(10,482,723);

layout.annotations.push({text:'Во проценти', xref:'paper', yref:'paper', x:10/W, y:1, xanchor:'left', yanchor:'bottom',
  yshift:-12, showarrow:false, font:{family:'"Liberation Sans",Arial,sans-serif', size:24, color:'#000'}});

Plotly.newPlot('chart', traces, layout, {staticPlot:true, displayModeBar:false}).then(()=>{
  if(bad.length) setTimeout(()=>{throw new Error('Length mismatch: '+bad.join('; '));},0);
});
</script></body></html>
